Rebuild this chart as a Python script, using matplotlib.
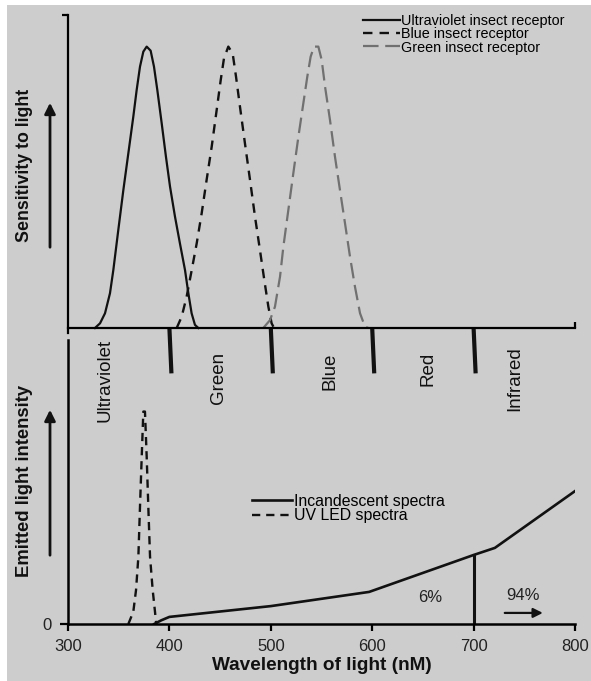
import matplotlib
matplotlib.use("Agg")
import matplotlib.pyplot as plt
from matplotlib.patches import Rectangle, FancyArrowPatch
from matplotlib.transforms import ScaledTranslation

plt.rcParams['font.family'] = ['Liberation Sans', 'DejaVu Sans']

# ---------------- data ----------------
uv_wl = [326.6, 331.6, 336.5, 341.4, 344.7, 349.6, 354.6, 359.5, 364.4, 367.7, 371.0, 374.3, 377.6,
         381.5, 384.8, 388.1, 392.4, 396.6, 400.6, 405.5, 410.4, 415.4, 418.7, 421.9, 425.2, 428.5]
uv_sens = [0.0, 0.015, 0.047, 0.111, 0.185, 0.313, 0.441, 0.558, 0.675, 0.760, 0.835, 0.883, 0.899,
           0.886, 0.835, 0.760, 0.654, 0.547, 0.452, 0.356, 0.270, 0.185, 0.111, 0.047, 0.010, 0.0]

blue_wl = [407.2, 412.1, 417.0, 422.0, 426.9, 431.8, 436.7, 441.7, 446.6, 450.6, 453.8, 458.1,
           462.4, 465.7, 469.6, 474.5, 479.5, 484.4, 489.3, 493.6, 497.6, 500.8, 503.2]
blue_sens = [0.0, 0.036, 0.100, 0.185, 0.270, 0.366, 0.473, 0.579, 0.696, 0.792, 0.861, 0.899,
             0.877, 0.803, 0.707, 0.590, 0.473, 0.356, 0.249, 0.153, 0.068, 0.015, 0.0]

green_wl = [492.6, 499.2, 504.1, 509.1, 512.4, 517.3, 522.2, 527.2, 532.1, 536.0, 539.3, 542.6,
            546.9, 550.2, 553.5, 558.4, 563.3, 568.2, 573.2, 578.1, 583.0, 588.0, 592.9, 596.2]
green_sens = [0.0, 0.025, 0.068, 0.164, 0.260, 0.377, 0.494, 0.611, 0.718, 0.803, 0.867, 0.899,
              0.899, 0.856, 0.771, 0.664, 0.547, 0.441, 0.334, 0.228, 0.132, 0.047, 0.004, 0.0]

band_edges = [400, 500, 600, 700]
band_names = ["Ultraviolet", "Green", "Blue", "Red", "Infrared"]
band_label_x = [336.5, 448, 558, 655, 741]

led_wl = [359.5, 361.1, 364.4, 367.1, 369.4, 371.0, 372.7, 374.3, 375.9, 377.6, 379.2, 380.9, 383.5, 385.8, 387.0]
led_int = [0.0, 1.4, 4.3, 12.0, 23.7, 41.3, 58.9, 74.8, 74.8, 58.9, 41.3, 23.7, 12.0, 4.3, 0.0]

inc_wl = [385, 392, 400, 500, 597, 700, 721, 800]
inc_int = [0.0, 1.3, 2.5, 6.3, 11.3, 24.3, 26.8, 46.8]

split_wl = 700
pct_visible = "6%"
pct_ir = "94%"
x_ticks = [300, 400, 500, 600, 700, 800]

# ---------------- figure ----------------
W, H = 591, 681
fig = plt.figure(figsize=(W / 100, H / 100), dpi=100, facecolor='white')
bg = '#cdcdcd'
fig.patches.append(Rectangle((7 / W, 0), 1 - 7 / W, 1 - 5 / H, transform=fig.transFigure,
                             facecolor=bg, edgecolor='none', zorder=-10))


def fx(px):
    return px / W


def fy(py):
    return 1 - py / H


left = fx(68)
width = fx(575) - left
ink = '#111111'

# top panel
ax1 = fig.add_axes([left, fy(333), width, (333 - 15) / H])
ax1.set_facecolor('none')
ax1.set_xlim(300, 800)
ax1.set_ylim(-0.016, 1.0)
ax1.spines['top'].set_visible(False)
ax1.spines['right'].set_visible(False)
ax1.spines['bottom'].set_position(('data', 0))
for s in ('left', 'bottom'):
    ax1.spines[s].set_linewidth(1.6)
ax1.set_xticks([800])
ax1.set_xticklabels([])
ax1.tick_params(axis='x', direction='in', length=4, width=1.6)
ax1.set_yticks([1.0])
ax1.set_yticklabels([])
ax1.tick_params(axis='y', direction='out', length=4, width=1.6)

ax1.plot(uv_wl, uv_sens, color=ink, lw=1.6, solid_joinstyle='round', label='Ultraviolet insect receptor')
ax1.plot(blue_wl, blue_sens, color=ink, lw=1.7, linestyle=(0, (4, 3)), label='Blue insect receptor')
ax1.plot(green_wl, green_sens, color='#707070', lw=1.6, linestyle=(0, (7, 3)), label='Green insect receptor')

for e in band_edges:
    ax1.plot([e, e + 2], [0, -0.145], color=ink, lw=3, clip_on=False, solid_capstyle='butt')

label_py = [375, 373, 366, 364, 374]
for name, xc, py in zip(band_names, band_label_x, label_py):
    ax1.text(xc, 0, name, rotation=90, ha='center', va='center', fontsize=13.5,
             transform=ax1.get_xaxis_transform() + ScaledTranslation(0, -(py - 328) / 100, fig.dpi_scale_trans),
             color=ink, clip_on=False)

ax1.legend(loc='upper left', bbox_to_anchor=(fx(363), fy(14)), bbox_transform=fig.transFigure,
           frameon=False, fontsize=10.4, handlelength=2.55, handletextpad=0.08,
           labelspacing=-0.05, borderpad=0, borderaxespad=0)

# bottom panel
ax2 = fig.add_axes([left, fy(624), width, (624 - 340) / H])
ax2.set_facecolor('none')
ax2.set_xlim(300, 800)
ax2.set_ylim(0, 100)
ax2.spines['top'].set_visible(False)
ax2.spines['right'].set_visible(False)
for s in ('left', 'bottom'):
    ax2.spines[s].set_linewidth(1.8)
ax2.set_xticks(x_ticks)
ax2.set_xticklabels([str(t) for t in x_ticks], fontsize=12, color='#222222')
ax2.tick_params(axis='x', direction='out', length=5, width=1.6, pad=6)
ax2.set_yticks([0])
ax2.set_yticklabels(['0'], fontsize=12, color='#222222')
ax2.tick_params(axis='y', direction='out', length=6, width=1.6, pad=6)

ax2.plot(inc_wl, inc_int, color=ink, lw=1.9, solid_joinstyle='round', label='Incandescent spectra')
ax2.plot(led_wl, led_int, color=ink, lw=1.7, linestyle=(0, (3.5, 2.5)), label='UV LED spectra')

split_y = inc_int[inc_wl.index(split_wl)]
ax2.plot([split_wl, split_wl], [0, split_y], color=ink, lw=2.2)
ax2.text(657, 9.2, pct_visible, ha='center', va='center', fontsize=12, color='#222222')
ax2.text(749, 10.2, pct_ir, ha='center', va='center', fontsize=12, color='#222222')
ax2.annotate('', xy=(771, 3.9), xytext=(728, 3.9),
             arrowprops=dict(arrowstyle='-|>', color=ink, lw=1.6, mutation_scale=14))

ax2.legend(loc='upper left', bbox_to_anchor=(fx(252), fy(494)), bbox_transform=fig.transFigure,
           frameon=False, fontsize=11.4, handlelength=2.5, handletextpad=0.15,
           labelspacing=-0.05, borderpad=0, borderaxespad=0)

ax2.set_xlabel('Wavelength of light (nM)', fontsize=13.7, fontweight='bold', labelpad=2, color=ink)

# y axis labels with arrows
fig.text(fx(25), fy(165), 'Sensitivity to light', rotation=90, ha='center', va='center',
         fontsize=12.8, fontweight='bold', color=ink)
fig.text(fx(25), fy(481), 'Emitted light intensity', rotation=90, ha='center', va='center',
         fontsize=13.3, fontweight='bold', color=ink)
for y0, y1 in ((250, 100), (558, 407)):
    fig.add_artist(FancyArrowPatch((fx(50), fy(y0)), (fx(50), fy(y1)),
                                   transform=fig.transFigure, arrowstyle='-|>',
                                   mutation_scale=16, lw=2.0, color=ink))

fig.savefig('out.png', dpi=100, facecolor='white')
